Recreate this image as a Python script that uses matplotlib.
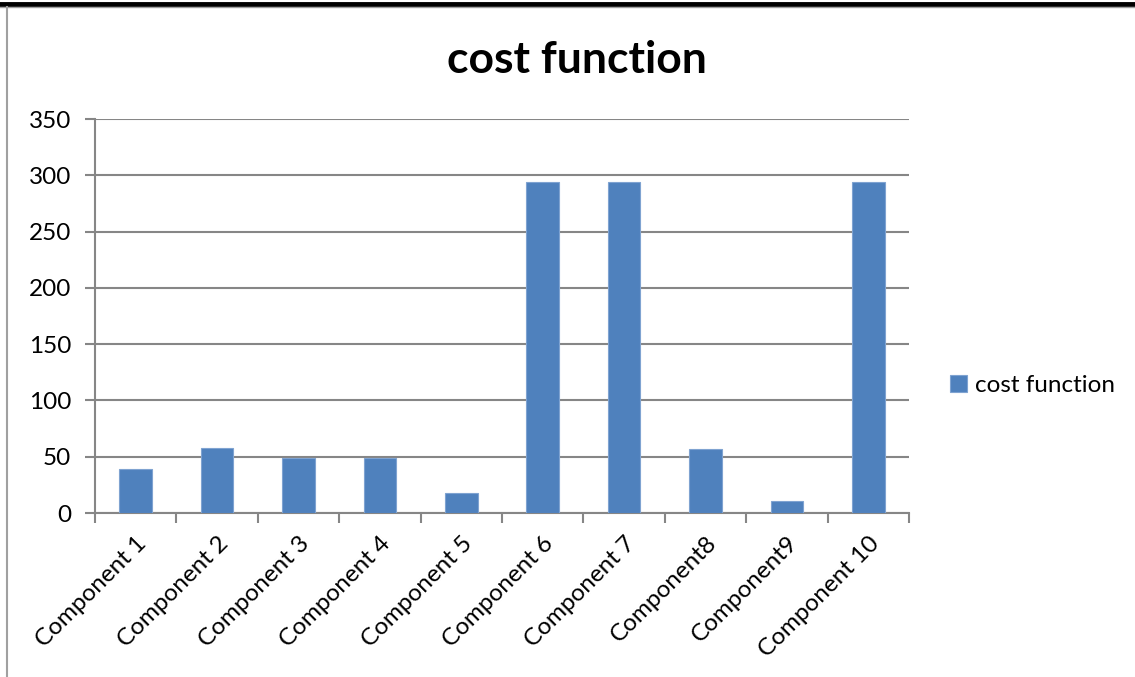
import numpy as np
import matplotlib.pyplot as plt
from matplotlib.lines import Line2D

### Daten
components = ["Component 1", "Component 2", "Component 3", "Component 4", "Component 5",
              "Component 6", "Component 7", "Component8", "Component9", "Component 10"]
cost = [39, 58, 49, 49, 18, 294, 294, 57, 11, 294]
yticks = [0, 50, 100, 150, 200, 250, 300, 350]

barColor  = "#4f81bd"
gridColor = "#868686"
fs        = 17.5
plt.rcParams['font.family'] = ['Lato', 'DejaVu Sans']

fig = plt.figure(figsize=(11.35, 6.77), dpi=100)
ax = fig.add_axes([0.0837, 0.2422, 0.7172, 0.582])

x = np.arange(len(components))
ax.bar(x, cost, width=0.4, color=barColor, edgecolor="#7fa3d1", linewidth=0.8,
       label="cost function", zorder=3)

ax.set_xlim(-0.5, len(components) - 0.5)
ax.set_ylim(0, 350)
ax.set_yticks(yticks)
ax.set_yticklabels([str(v) for v in yticks], fontsize=fs)
ax.yaxis.grid(True, color=gridColor, linewidth=1.5, zorder=0)

# Ticks an den Kategoriegrenzen, Beschriftungen in der Mitte
ax.set_xticks(np.arange(len(components) + 1) - 0.5)
ax.set_xticklabels([])
ax.set_xticks(x, minor=True)
ax.set_xticklabels(components, minor=True, rotation=45, ha="right", va="top",
                   rotation_mode="anchor", fontsize=fs)
ax.tick_params(axis="x", which="minor", length=0, pad=14)
ax.tick_params(axis="x", which="major", length=7, width=1.5, color=gridColor)
ax.tick_params(axis="y", length=7, width=1.5, color=gridColor, pad=10)

for s in ["top", "right"]:
    ax.spines[s].set_visible(False)
for s in ["left", "bottom"]:
    ax.spines[s].set_color(gridColor)
    ax.spines[s].set_linewidth(1.5)

fig.text(0.508, 0.912, "cost function", ha="center", va="center",
         fontsize=32, fontweight="bold")

leg = fig.legend(loc="center left", bbox_to_anchor=(0.818, 0.431), frameon=False,
                 fontsize=fs, handlelength=0.7, handleheight=0.7, handletextpad=0.3)

# Rahmen: dicke Linie oben, graue Linie links
fig.add_artist(Line2D([0, 1], [0.9945, 0.9945], transform=fig.transFigure,
                      color="black", linewidth=3.5))
fig.add_artist(Line2D([0, 1], [0.9895, 0.9895], transform=fig.transFigure,
                      color="#a0a0a0", linewidth=1))
fig.add_artist(Line2D([0.0062, 0.0062], [0, 0.99], transform=fig.transFigure,
                      color="#a0a0a0", linewidth=1.5))

fig.savefig("out.png", dpi=100)
